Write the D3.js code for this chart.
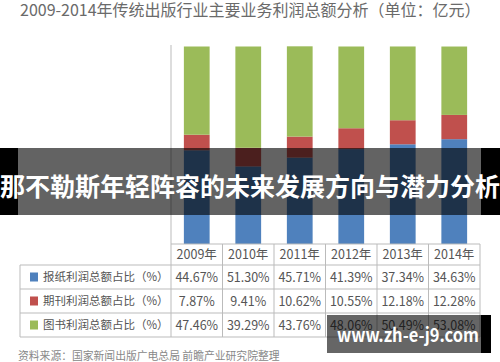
<!DOCTYPE html>
<html lang="zh">
<head>
  <meta charset="UTF-8">
  <script src="https://d3js.org/d3.v7.min.js"></script>
  <style>
    body { margin: 0; background: #fff; }
    svg { display: block; }
    text { font-family: "Noto Sans CJK SC", "Noto Sans", sans-serif; }
  </style>
</head>
<body>
  <script>
    const width = 500;
    const height = 362;

    // data
    const years = ["2009年", "2010年", "2011年", "2012年", "2013年", "2014年"];
    const newspaper = [44.67, 51.30, 45.71, 41.39, 37.34, 34.63];
    const periodical = [7.87, 9.41, 10.62, 10.55, 12.18, 12.28];
    const book = [47.46, 39.29, 43.76, 48.06, 50.49, 53.08];
    const rowLabels = ["报纸利润总额占比（%）", "期刊利润总额占比（%）", "图书利润总额占比（%）"];
    const rowColors = ["#4f81bd", "#c0504d", "#9bbb59"];

    const svg = d3.select("body")
      .append("svg")
      .attr("width", width)
      .attr("height", height);

    // title
    svg.append("text")
      .attr("x", 20)
      .attr("y", 15.5)
      .attr("font-size", 16)
      .attr("fill", "#6a6a6a")
      .text("2009-2014年传统出版行业主要业务利润总额分析（单位：亿元）");

    const x = d3.scaleBand()
      .domain(years)
      .range([171, 480])
      .paddingInner(0.5)
      .paddingOuter(0.25);

    const y = d3.scaleLinear()
      .domain([0, 100])
      .range([244, 46.5]);

    // stacked bars (bottom: blue, middle: red, top: green as in the picture)
    const rows = years.map((yr, i) => ({ year: yr, book: book[i], periodical: periodical[i], newspaper: newspaper[i] }));
    const stack = d3.stack().keys(["book", "periodical", "newspaper"])(rows);
    const barColors = { book: "#4f81bd", periodical: "#c0504d", newspaper: "#9bbb59" };

    svg.append("g")
      .selectAll("g")
      .data(stack)
      .join("g")
      .attr("fill", d => barColors[d.key])
      .selectAll("rect")
      .data(d => d)
      .join("rect")
      .attr("x", d => x(d.data.year))
      .attr("y", d => y(d[1]))
      .attr("width", x.bandwidth())
      .attr("height", d => y(d[0]) - y(d[1]));

    // y axis line
    svg.append("line")
      .attr("x1", 171).attr("x2", 171)
      .attr("y1", 45).attr("y2", 244)
      .attr("stroke", "#bbb");

    // data table
    const rowY = [244, 265, 289, 313, 337];
    const grid = svg.append("g").attr("stroke", "#bbb").attr("stroke-width", 1);
    grid.append("line").attr("x1", 171).attr("x2", 480).attr("y1", rowY[0]).attr("y2", rowY[0]);
    rowY.slice(1).forEach(yy => {
      grid.append("line").attr("x1", 20).attr("x2", 480).attr("y1", yy).attr("y2", yy);
    });
    grid.append("line").attr("x1", 20).attr("x2", 20).attr("y1", rowY[1]).attr("y2", rowY[4]);
    d3.range(years.length + 1).forEach(i => {
      const xx = 171 + i * x.step();
      grid.append("line").attr("x1", xx).attr("x2", xx).attr("y1", rowY[0]).attr("y2", rowY[4]);
    });

    const cx = d => x(d) + x.bandwidth() / 2;

    svg.append("g")
      .selectAll("text")
      .data(years)
      .join("text")
      .attr("x", d => cx(d))
      .attr("y", (rowY[0] + rowY[1]) / 2)
      .attr("dy", "0.36em")
      .attr("text-anchor", "middle")
      .attr("font-size", 12.5)
      .attr("fill", "#555")
      .text(d => d);

    const fmt = v => d3.format(".2f")(v) + "%";
    [newspaper, periodical, book].forEach((vals, r) => {
      const mid = (rowY[r + 1] + rowY[r + 2]) / 2;
      svg.append("rect")
        .attr("x", 30).attr("y", mid - 4.5)
        .attr("width", 8).attr("height", 9)
        .attr("fill", rowColors[r]);
      svg.append("text")
        .attr("x", 43)
        .attr("y", mid)
        .attr("dy", "0.36em")
        .attr("font-size", 11.5)
        .attr("fill", "#555")
        .text(rowLabels[r]);
      svg.append("g")
        .selectAll("text")
        .data(vals)
        .join("text")
        .attr("x", (d, i) => cx(years[i]))
        .attr("y", mid)
        .attr("dy", "0.36em")
        .attr("text-anchor", "middle")
        .attr("font-size", 12.5)
        .attr("fill", "#555")
        .text(d => fmt(d));
    });

    // source note
    svg.append("text")
      .attr("x", 18)
      .attr("y", 360)
      .attr("font-size", 10.8)
      .attr("fill", "#888")
      .text("资料来源：国家新闻出版广电总局 前瞻产业研究院整理");

    // headline banner over the chart
    svg.append("rect").attr("x", 18).attr("y", 148).attr("width", 463).attr("height", 67)
      .attr("fill", "rgba(0,0,0,0.61)");
    svg.append("rect").attr("x", 0).attr("y", 148).attr("width", 18).attr("height", 67).attr("fill", "#000");
    svg.append("rect").attr("x", 481).attr("y", 148).attr("width", 19).attr("height", 67).attr("fill", "#000");
    svg.append("text")
      .attr("x", 250)
      .attr("y", 196)
      .attr("text-anchor", "middle")
      .attr("font-size", 25)
      .attr("font-weight", "bold")
      .attr("fill", "#fff")
      .text("那不勒斯年轻阵容的未来发展方向与潜力分析");

    // watermark
    svg.append("rect").attr("x", 327).attr("y", 315).attr("width", 154).attr("height", 38)
      .attr("fill", "rgba(0,0,0,0.6)");
    svg.append("rect").attr("x", 481).attr("y", 315).attr("width", 10).attr("height", 38).attr("fill", "#000");
    svg.append("text")
      .attr("x", 337)
      .attr("y", 342)
      .attr("font-family", "Liberation Sans, Arial, sans-serif")
      .attr("font-size", 18.5)
      .attr("font-weight", "bold")
      .attr("fill", "#fff")
      .attr("textLength", 142)
      .attr("lengthAdjust", "spacingAndGlyphs")
      .text("www.zh-e-j9.com");
  </script>
</body>
</html>
